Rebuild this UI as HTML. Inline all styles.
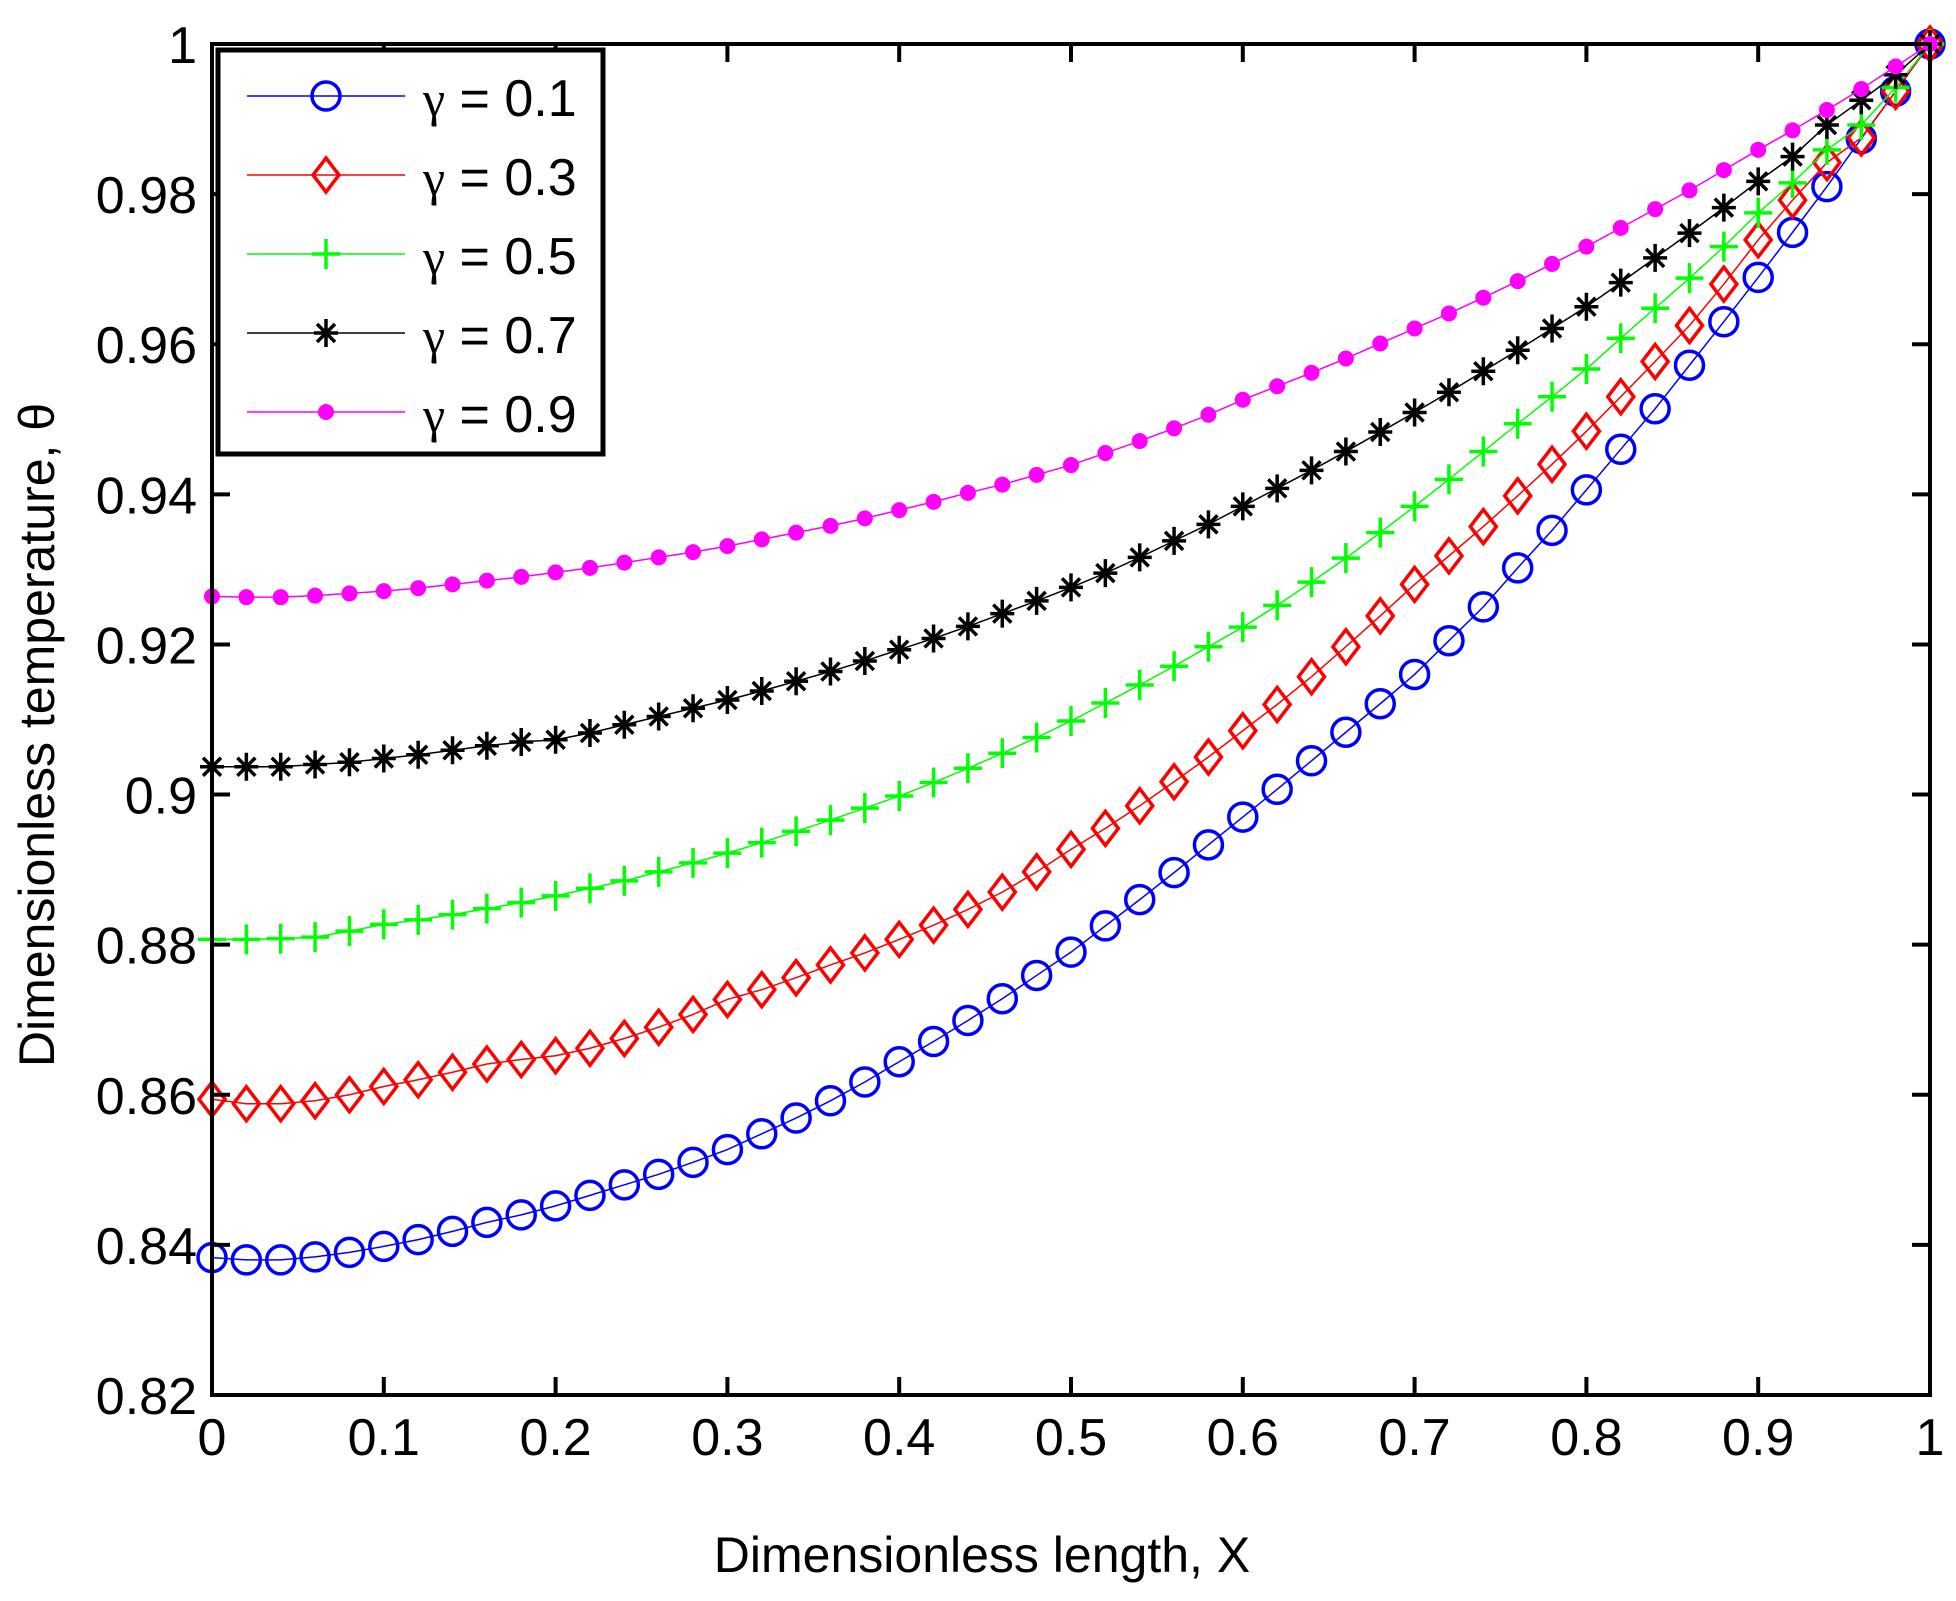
<!DOCTYPE html>
<html><head><meta charset="utf-8"><style>
html,body{margin:0;padding:0;background:#fff;}
svg text{font-family:"Liberation Sans",Arial,sans-serif;fill:#000;}
</style></head><body>
<svg id="chart" width="1956" height="1596" viewBox="0 0 1956 1596" xmlns="http://www.w3.org/2000/svg">
<rect width="1956" height="1596" fill="#fff"/>
<g id="marks"></g>
<g id="axes"></g>
<g id="legend"></g>
</svg>
<script>
const xTicks=[0,0.1,0.2,0.3,0.4,0.5,0.6,0.7,0.8,0.9,1];
const xTickLabels=["0","0.1","0.2","0.3","0.4","0.5","0.6","0.7","0.8","0.9","1"];
const yTicks=[0.82,0.84,0.86,0.88,0.9,0.92,0.94,0.96,0.98,1];
const yTickLabels=["0.82","0.84","0.86","0.88","0.9","0.92","0.94","0.96","0.98","1"];
const seriesValues=["0.1","0.3","0.5","0.7","0.9"];
const g01=[.8383,.8380,.8380,.8384,.8390,.8398,.8407,.8418,.8430,.8440,.8452,.8466,.8480,.8494,.8510,.8527,.8548,.8569,.8592,.8617,.8644,.8671,.8699,.8728,.8759,.8790,.8825,.8860,.8896,.8933,.8970,.9007,.9045,.9083,.9121,.9160,.9205,.9250,.9302,.9352,.9406,.9460,.9514,.9572,.9630,.9689,.9749,.9810,.9874,.9937,1.0];
const g03=[.8594,.8588,.8588,.8592,.8600,.8611,.8620,.8630,.8641,.8647,.8652,.8662,.8675,.8690,.8707,.8727,.8740,.8756,.8773,.8789,.8807,.8826,.8847,.8870,.8897,.8927,.8955,.8985,.9017,.9050,.9085,.9120,.9157,.9197,.9238,.9280,.9318,.9357,.9398,.9440,.9484,.9530,.9577,.9625,.9680,.9739,.9792,.9842,.9875,.9937,1.0];
const g05=[.8807,.8807,.8808,.8810,.8818,.8827,.8833,.8840,.8848,.8856,.8865,.8875,.8885,.8897,.8909,.8922,.8936,.8951,.8966,.8982,.8998,.9016,.9035,.9055,.9076,.9098,.9122,.9146,.9171,.9197,.9223,.9252,.9283,.9315,.9349,.9384,.9420,.9457,.9494,.9530,.9567,.9608,.9648,.9688,.9730,.9775,.9815,.9859,.9892,.9942,1.0];
const g07=[.9037,.9037,.9037,.9040,.9043,.9048,.9053,.9059,.9065,.9070,.9073,.9082,.9093,.9104,.9115,.9126,.9138,.9151,.9164,.9178,.9193,.9208,.9224,.9241,.9258,.9276,.9295,.9316,.9338,.9360,.9384,.9408,.9432,.9457,.9483,.9509,.9536,.9564,.9592,.9621,.9650,.9682,.9715,.9748,.9782,.9817,.9850,.9892,.9925,.9959,1.0];
const g09=[.9264,.9263,.9263,.9265,.9268,.9271,.9275,.9280,.9285,.9290,.9296,.9302,.9309,.9316,.9323,.9331,.9340,.9349,.9358,.9368,.9379,.9390,.9402,.9413,.9426,.9439,.9455,.9471,.9488,.9506,.9526,.9544,.9562,.9581,.9601,.9621,.9641,.9662,.9684,.9707,.9730,.9755,.9780,.9805,.9832,.9859,.9885,.9912,.9940,.9970,1.0];

const NS="http://www.w3.org/2000/svg";
const L=212,R=1930,T=44,B=1395;
const xMin=0,xMax=1,yMin=0.82,yMax=1;
function xs(v){return L+(v-xMin)/(xMax-xMin)*(R-L);}
function ys(v){return B-(v-yMin)/(yMax-yMin)*(B-T);}
function mk(tag,attrs,parent){const e=document.createElementNS(NS,tag);for(const k in attrs)e.setAttribute(k,attrs[k]);parent.appendChild(e);return e;}

const marks=document.getElementById('marks');
const axes=document.getElementById('axes');
const legend=document.getElementById('legend');
const seriesData=[g01,g03,g05,g07,g09];
const colors=["#0000ff","#ff0000","#00ff00","#000000","#ff00ff"];
const kinds=["circle","diamond","plus","star","dot"];

function drawMarker(kind,cx,cy,col,parent){
  let e;
  if(kind==="circle"){e=mk('circle',{cx:cx,cy:cy,r:14,fill:'none',stroke:col,'stroke-width':3.5},parent);}
  else if(kind==="diamond"){e=mk('polygon',{points:`${cx},${cy-17} ${cx+13},${cy} ${cx},${cy+17} ${cx-13},${cy}`,fill:'none',stroke:col,'stroke-width':3.5},parent);}
  else if(kind==="plus"){e=mk('path',{d:`M${cx-14},${cy}H${cx+14}M${cx},${cy-15}V${cy+15}`,stroke:col,'stroke-width':3.5,fill:'none'},parent);}
  else if(kind==="star"){e=mk('path',{d:`M${cx-12},${cy}H${cx+12}M${cx},${cy-14}V${cy+14}M${cx-9},${cy-9}L${cx+9},${cy+9}M${cx-9},${cy+9}L${cx+9},${cy-9}`,stroke:col,'stroke-width':3.5,fill:'none'},parent);}
  else {e=mk('circle',{cx:cx,cy:cy,r:8,fill:col,stroke:'none'},parent);}
  return e;
}

seriesData.forEach((arr,si)=>{
  const g=mk('g',{},marks);
  
  
  const pts=arr.map((v,i)=>xs(i/(arr.length-1))+','+ys(v)).join(' ');
  const pl=mk('polyline',{points:pts,fill:'none',stroke:colors[si],'stroke-width':1.5},g);
  
  
  arr.forEach((v,i)=>{
    const m=drawMarker(kinds[si],xs(i/(arr.length-1)),ys(v),colors[si],g);
    
    
  });
});

const box=mk('rect',{x:L,y:T,width:R-L,height:B-T,fill:'none',stroke:'#000','stroke-width':4},axes);


xTicks.forEach((t,i)=>{
  const x=xs(t);
  const tk=mk('path',{d:`M${x},${B}V${B-18}M${x},${T}V${T+18}`,stroke:'#000','stroke-width':4},axes);
  
  
  const tx=mk('text',{x:x,y:1455,'font-size':52,'text-anchor':'middle'},axes);
  tx.textContent=xTickLabels[i];
  
  
});
yTicks.forEach((t,i)=>{
  const y=ys(t);
  const tk=mk('path',{d:`M${L},${y}H${L+18}M${R},${y}H${R-18}`,stroke:'#000','stroke-width':4},axes);
  
  
  const tx=mk('text',{x:197,y:y+19,'font-size':52,'text-anchor':'end'},axes);
  tx.textContent=yTickLabels[i];
  
  
});
const xt=mk('text',{x:982,y:1572,'font-size':50,'text-anchor':'middle'},axes);
xt.textContent="Dimensionless length, X";


const yt=mk('text',{x:0,y:0,'font-size':50,'text-anchor':'middle',transform:'translate(54,735) rotate(-90)'},axes);
yt.textContent="Dimensionless temperature, θ";



const lb=mk('rect',{x:218,y:50,width:385,height:404,fill:'#fff',stroke:'#000','stroke-width':5},legend);


const rowY=[96,175,254,333,412];
seriesValues.forEach((n,si)=>{
  const g=mk('g',{},legend);
  
  
  mk('line',{x1:247,x2:405,y1:rowY[si],y2:rowY[si],stroke:colors[si],'stroke-width':1.5},g);
  drawMarker(kinds[si],326,rowY[si],colors[si],g);
  const t=mk('text',{x:423,y:rowY[si]+20,'font-size':52},g);
  const gs=mk('tspan',{'font-family':'Liberation Serif, serif','font-size':50},t);
  gs.textContent='γ';
  const rest=mk('tspan',{},t);
  rest.textContent=' = '+n;
  
  
});
</script>
</body></html>
